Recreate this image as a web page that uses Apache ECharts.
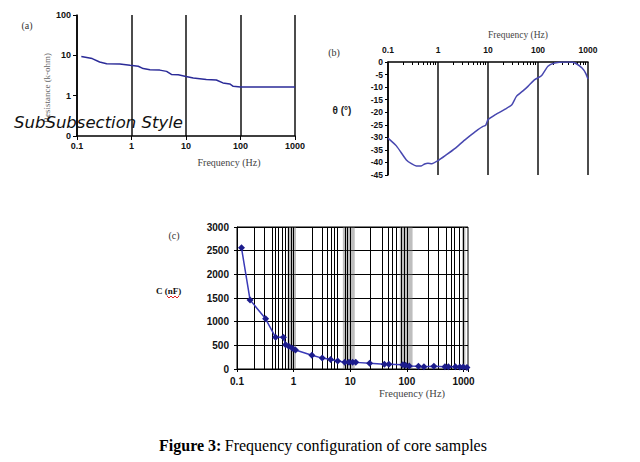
<!DOCTYPE html>
<html><head><meta charset="utf-8">
<script src="https://cdn.jsdelivr.net/npm/echarts@6/dist/echarts.min.js"></script>
<style>html,body{margin:0;padding:0;background:#fff}#c{width:640px;height:462px}</style>
</head><body><div id="c"></div>
<script>
// ---- Panel (a): resistance vs frequency ----
const freqA = [0.12, 0.19, 0.26, 0.35, 0.61, 0.94, 1.33, 1.64, 2.18, 3.3, 4.4, 5.4, 7.2, 10, 13.6, 23.6, 36, 47.6, 63.6, 73.5, 100, 1000];
const resA  = [9.4, 8.3, 6.85, 6.2, 6.1, 5.65, 5.35, 4.7, 4.4, 4.3, 4.0, 3.35, 3.3, 3.0, 2.75, 2.5, 2.45, 2.07, 1.95, 1.7, 1.65, 1.65];

// ---- Panel (b): phase angle vs frequency ----
const freqB  = [0.1, 0.147, 0.233, 0.3, 0.368, 0.46, 0.54, 0.63, 0.75, 1, 1.46, 2.2, 3.3, 4.6, 6.2, 7.8, 9, 10, 14, 22, 30, 37, 50, 63, 86, 117, 158, 215, 340, 450, 550, 760, 900, 1000];
const phaseB = [-30.3, -33.4, -39, -40.6, -41.4, -41.4, -40.6, -40.3, -40.5, -39.3, -37, -34.4, -31.3, -29, -27, -25.7, -25.2, -23, -21, -18.8, -17, -13.7, -11.5, -9.7, -7, -5.5, -1.7, -0.4, 0, 0, -0.4, -2.4, -4.5, -6.8];
const minorTicksB = [0.2,0.3,0.4,0.5,0.6,0.7,0.8,0.9, 2,3,4,5,6,7,8,9, 20,30,40,50,60,70,80,90, 200,300,400,500,600,700,800,900];

// ---- Panel (c): capacitance vs frequency ----
const freqC = [0.12, 0.17, 0.32, 0.48, 0.66, 0.72, 0.82, 0.95, 1.08, 2.1, 3.2, 4.5, 6, 8, 9.5, 11, 12.5, 22, 40, 48, 85, 95, 110, 160, 200, 300, 470, 540, 720, 860, 990, 1150];
const capC  = [2560, 1460, 1060, 670, 670, 510, 480, 440, 400, 290, 230, 200, 170, 145, 140, 140, 140, 120, 100, 100, 90, 80, 65, 60, 45, 60, 45, 45, 45, 40, 40, 30];
const gridLinesC = [0.2, 0.3, 0.42, 0.48, 0.53, 0.63, 0.72, 0.8, 0.9, 1, 2.16, 3.25, 4.0, 4.6, 5.25, 6.0, 8, 9, 10, 23, 36, 47, 56, 66, 80, 90, 100, 242, 352, 490, 597, 680, 830, 1000];
const gridBandsC = [[0.78, 1.1], [7.4, 12], [75, 126], [940, 1080]];

// tick labels
const decadeLabels = [0.1, 1, 10, 100, 1000];

const sans = '"Liberation Sans", Arial, sans-serif';
const serif = '"Liberation Serif", "Times New Roman", serif';
const zip = (a, b) => a.map((v, i) => [v, b[i]]);
const isDecade = v => decadeLabels.some(d => Math.abs(d - v) / d < 1e-6);
const fmtDec = v => isDecade(v) ? String(Number(Number(v).toPrecision(3))) : '';

const axLine = { show: true, onZero: false, lineStyle: { color: '#000', width: 1.5 } };
const lab = (size, margin) => ({ fontSize: size, fontWeight: 'bold', fontFamily: sans, color: '#111', margin });

const chart = echarts.init(document.getElementById('c'), null, { renderer: 'svg' });
chart.setOption({
  animation: false,
  backgroundColor: '#fff',
  grid: [
    { left: 77, top: 15, width: 218, height: 121 },
    { left: 388, top: 62, width: 200, height: 113 },
    { left: 237, top: 227, width: 231, height: 142, show: true, borderColor: '#000', borderWidth: 1, backgroundColor: 'transparent' }
  ],
  xAxis: [
    { gridIndex: 0, type: 'log', logBase: 10, min: 0.1, max: 1000, axisLine: axLine,
      axisTick: { show: true, length: 4, lineStyle: { color: '#000' } },
      axisLabel: Object.assign(lab(9, 5), { formatter: fmtDec }),
      splitLine: { show: true, lineStyle: { color: '#111', width: 1.5 } } },
    { gridIndex: 1, type: 'log', logBase: 10, position: 'top', min: 0.1, max: 1000, axisLine: axLine,
      axisTick: { show: false },
      axisLabel: Object.assign(lab(8.5, 8), { formatter: fmtDec }),
      splitLine: { show: true, lineStyle: { color: '#111', width: 1.5 } } },
    { gridIndex: 2, type: 'log', logBase: 10, min: 0.1, max: 1200, axisLine: { show: true, onZero: false, lineStyle: { color: '#000', width: 1 } },
      axisTick: { show: true, length: 3, lineStyle: { color: '#000' } },
      axisLabel: Object.assign(lab(10, 7), { formatter: fmtDec, showMaxLabel: true }),
      splitLine: { show: false } }
  ],
  yAxis: [
    { gridIndex: 0, type: 'log', logBase: 10, min: 0.1, max: 100, axisLine: axLine,
      axisTick: { show: true, length: 4, lineStyle: { color: '#000' } },
      axisLabel: Object.assign(lab(9, 6), { formatter: v => (v < 0.5 ? '0' : fmtDec(v)) }),
      splitLine: { show: false } },
    { gridIndex: 1, type: 'value', min: -45, max: 0, interval: 5, axisLine: axLine,
      axisTick: { show: true, length: 3, lineStyle: { color: '#000' } },
      axisLabel: Object.assign(lab(8.5, 5), { formatter: v => String(v) }),
      splitLine: { show: false } },
    { gridIndex: 2, type: 'value', min: 0, max: 3000, interval: 500, axisLine: { show: true, onZero: false, lineStyle: { color: '#000', width: 1 } },
      axisTick: { show: true, length: 3, lineStyle: { color: '#000' } },
      axisLabel: Object.assign(lab(10, 8), { formatter: v => String(v) }),
      splitLine: { show: true, lineStyle: { color: '#000', width: 1 } } }
  ],
  series: [
    { type: 'line', xAxisIndex: 0, yAxisIndex: 0, data: zip(freqA, resA), symbol: 'none',
      lineStyle: { color: '#2b2b98', width: 1.5 }, z: 5 },
    { type: 'line', xAxisIndex: 1, yAxisIndex: 1, data: zip(freqB, phaseB), symbol: 'none', smooth: 0.2,
      lineStyle: { color: '#4848b0', width: 1.5 }, z: 5,
      markLine: { silent: true, z: 1, symbol: ['none', 'none'], label: { show: false },
        lineStyle: { color: '#000', width: 1, type: 'solid' },
        data: minorTicksB.map(f => [{ coord: [f, 0] }, { coord: [f, -1.2] }]) } },
    { type: 'line', xAxisIndex: 2, yAxisIndex: 2, data: zip(freqC, capC), symbol: 'diamond', symbolSize: 7,
      itemStyle: { color: '#1c1c8c' }, lineStyle: { color: '#3a3ab8', width: 1.5 }, z: 5,
      markLine: { silent: true, z: 1, symbol: ['none', 'none'], label: { show: false },
        lineStyle: { color: '#000', width: 1, type: 'solid' },
        data: gridLinesC.map(v => ({ xAxis: v })) },
      markArea: { silent: true, z: 1, itemStyle: { color: 'rgba(110,110,110,0.45)' },
        data: gridBandsC.map(([a, b]) => [{ xAxis: a }, { xAxis: b }]) } }
  ],
  graphic: [
    { type: 'text', style: { text: '(a)', x: 27, y: 25, align: 'center', verticalAlign: 'middle', font: '10px ' + serif, fill: '#333' } },
    { type: 'text', style: { text: 'Frequency (Hz)', x: 229, y: 162, align: 'center', verticalAlign: 'middle', font: '10px ' + serif, fill: '#444' } },
    { type: 'text', x: 47, y: 88, rotation: Math.PI / 2, style: { text: 'Resistance (k-ohm)', x: 0, y: 0, align: 'center', verticalAlign: 'middle', font: '9px ' + serif, fill: '#666' } },
    { type: 'text', z: 100, style: { text: 'SubSubsection Style', x: 14, y: 122, align: 'left', verticalAlign: 'middle', font: 'italic 16.5px "DejaVu Sans", sans-serif', fill: '#111' } },
    { type: 'text', style: { text: '(b)', x: 334, y: 52, align: 'center', verticalAlign: 'middle', font: '10px ' + serif, fill: '#333' } },
    { type: 'text', style: { text: 'Frequency (Hz)', x: 518, y: 35, align: 'center', verticalAlign: 'middle', font: '9.5px ' + serif, fill: '#444' } },
    { type: 'text', style: { text: 'θ (°)', x: 342, y: 110, align: 'center', verticalAlign: 'middle', font: 'bold 10px ' + sans, fill: '#222' } },
    { type: 'text', style: { text: '(c)', x: 174, y: 235, align: 'center', verticalAlign: 'middle', font: '10px ' + serif, fill: '#333' } },
    { type: 'text', style: { text: 'C (nF)', x: 156, y: 291, align: 'left', verticalAlign: 'middle', font: 'bold 9px ' + serif, fill: '#111' } },
    { type: 'polyline', shape: { points: [[167, 296], [169, 298], [171, 296], [173, 298], [175, 296], [177, 298], [179, 296]] }, style: { stroke: '#e02020', lineWidth: 1, fill: null } },
    { type: 'text', style: { text: 'Frequency (Hz)', x: 412, y: 393, align: 'center', verticalAlign: 'middle', font: '10.5px ' + serif, fill: '#444' } },
    { type: 'text', style: { text: '{b|Figure 3:} {n|Frequency configuration of core samples}', x: 323, y: 445, align: 'center', verticalAlign: 'middle',
        rich: { b: { fontSize: 16, fontWeight: 'bold', fontFamily: serif, fill: '#000', color: '#000' }, n: { fontSize: 16, fontFamily: serif, fill: '#000', color: '#000' } } } }
  ]
});
</script></body></html>
